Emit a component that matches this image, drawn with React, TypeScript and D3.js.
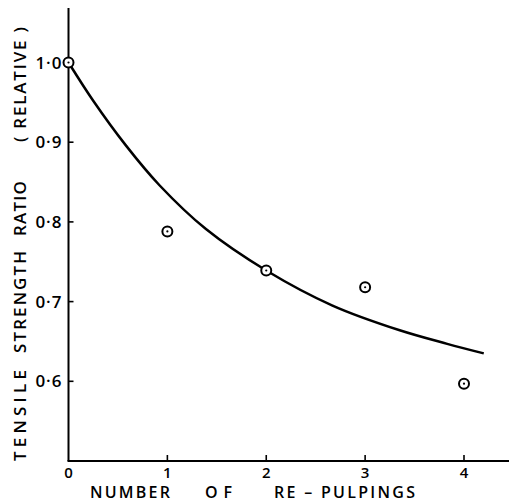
import React, { useEffect, useRef } from "react";
import * as d3 from "d3";

// measured points
const pulpings = [0, 1, 2, 3, 4];
const strengthRatio = [1.0, 0.788, 0.739, 0.718, 0.597];

// fitted curve
const curveX = [0, 0.25, 0.58, 0.92, 1.39, 2.0, 2.67, 3.35, 3.83, 4.2];
const curveY = [1.0, 0.952, 0.896, 0.846, 0.791, 0.739, 0.695, 0.664, 0.647, 0.635];

const xTicks = [0, 1, 2, 3, 4];
const xTickLabels = ["0", "1", "2", "3", "4"];
const yTicks = [0.6, 0.7, 0.8, 0.9, 1.0];
const yTickLabels = ["0·6", "0·7", "0·8", "0·9", "1·0"];

// axis title words with the span each one covers (px)
const xTitleWords = [
  { text: "NUMBER", from: 90, to: 170 },
  { text: "OF", from: 205, to: 232 },
  { text: "RE – PULPINGS", from: 274, to: 415 },
];
const yTitleWords = [
  { text: "TENSILE", from: 461, to: 370 },
  { text: "STRENGTH", from: 353, to: 251 },
  { text: "RATIO", from: 236, to: 181 },
  { text: "( RELATIVE )", from: 142, to: 27 },
];

const App = () => {
  const svgRef = useRef<SVGSVGElement>(null);

  useEffect(() => {
    const width = 509;
    const height = 502;
    const margin = { top: 8, right: 0, bottom: 41, left: 68.5 };

    const x = d3.scaleLinear().domain([0, 4]).range([margin.left, 464]);
    const y = d3.scaleLinear().domain([0.5, 1.0]).range([height - margin.bottom, 62.5]);

    const svg = d3.select(svgRef.current).attr("width", width).attr("height", height);
    svg.selectAll("*").remove();

    const font = "'Open Sans', 'DejaVu Sans', sans-serif";
    const weight = "600";
    const axisBottom = y(0.5);

    // axes
    svg.append("line")
      .attr("x1", x(0)).attr("x2", x(0))
      .attr("y1", margin.top).attr("y2", axisBottom)
      .attr("stroke", "#000").attr("stroke-width", 2);
    svg.append("line")
      .attr("x1", x(0) - 1).attr("x2", width)
      .attr("y1", axisBottom).attr("y2", axisBottom)
      .attr("stroke", "#000").attr("stroke-width", 2);

    // y ticks (inward)
    yTicks.forEach((t, i) => {
      svg.append("line")
        .attr("x1", x(0)).attr("x2", x(0) + 5)
        .attr("y1", y(t)).attr("y2", y(t))
        .attr("stroke", "#000").attr("stroke-width", 1.6);
      svg.append("text")
        .attr("x", x(0) - 6).attr("y", y(t) + 6)
        .attr("text-anchor", "end")
        .style("font-family", font).style("font-size", "17px")
        .style("font-weight", weight)
        .style("letter-spacing", "1px")
        .text(yTickLabels[i]);
    });

    // x ticks (inward)
    xTicks.forEach((t, i) => {
      if (t > 0) {
        svg.append("line")
          .attr("x1", x(t)).attr("x2", x(t))
          .attr("y1", axisBottom).attr("y2", axisBottom - 6)
          .attr("stroke", "#000").attr("stroke-width", 1.6);
      }
      svg.append("text")
        .attr("x", x(t)).attr("y", 478)
        .attr("text-anchor", "middle")
        .style("font-family", font).style("font-size", "15px")
        .style("font-weight", weight)
        .text(xTickLabels[i]);
    });

    // axis titles
    xTitleWords.forEach((w) => {
      svg.append("text")
        .attr("x", w.from).attr("y", 498)
        .attr("textLength", w.to - w.from).attr("lengthAdjust", "spacing")
        .style("font-family", font).style("font-size", "16px")
        .style("font-weight", weight)
        .text(w.text);
    });

    yTitleWords.forEach((w) => {
      svg.append("text")
        .attr("transform", `translate(26,${w.from}) rotate(-90)`)
        .attr("textLength", w.from - w.to).attr("lengthAdjust", "spacing")
        .style("font-family", font).style("font-size", "17px")
        .style("font-weight", weight)
        .text(w.text);
    });

    // fitted curve
    const curveData = curveX.map((v, i) => [v, curveY[i]] as [number, number]);
    const line = d3.line<[number, number]>()
      .x((d) => x(d[0]))
      .y((d) => y(d[1]))
      .curve(d3.curveCatmullRom);
    svg.append("path")
      .datum(curveData)
      .attr("d", line)
      .attr("fill", "none")
      .attr("stroke", "#000")
      .attr("stroke-width", 2.5);

    // points: circle with centre dot
    const pts = pulpings.map((p, i) => ({ p, v: strengthRatio[i] }));
    const g = svg.append("g");
    g.selectAll("circle.ring")
      .data(pts)
      .enter()
      .append("circle")
      .attr("class", "ring")
      .attr("cx", (d) => x(d.p))
      .attr("cy", (d) => y(d.v))
      .attr("r", 5)
      .attr("fill", "#fff")
      .attr("stroke", "#000")
      .attr("stroke-width", 2);
    g.selectAll("circle.dot")
      .data(pts)
      .enter()
      .append("circle")
      .attr("class", "dot")
      .attr("cx", (d) => x(d.p))
      .attr("cy", (d) => y(d.v))
      .attr("r", 1.1)
      .attr("fill", "#000");
  }, []);

  return (
    <div style={{ position: "absolute", left: 0, top: 0, background: "#fff" }}>
      <svg ref={svgRef} style={{ display: "block" }}></svg>
    </div>
  );
};

export default App;
